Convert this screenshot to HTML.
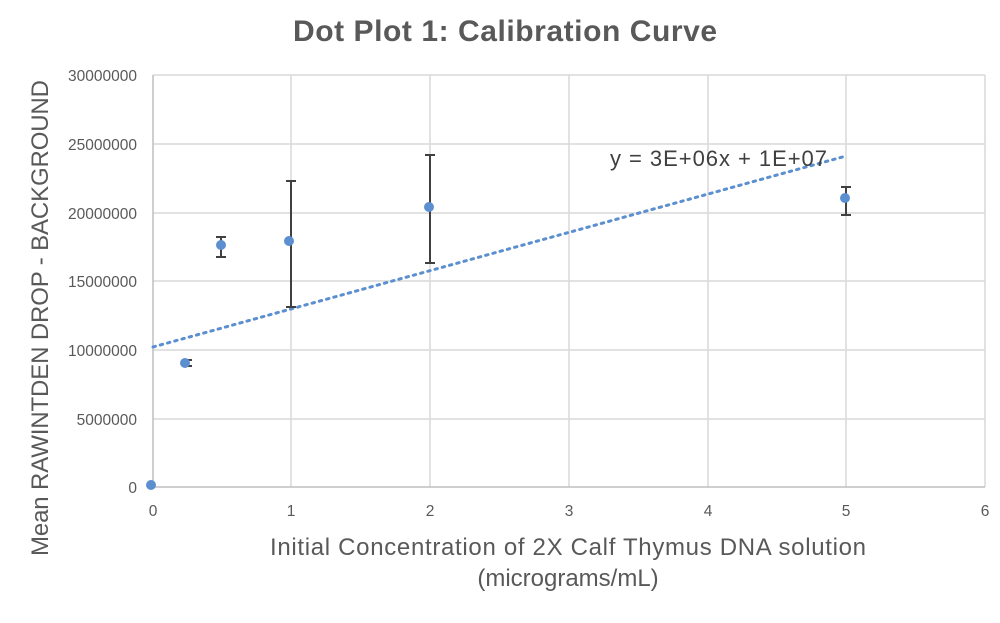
<!DOCTYPE html>
<html><head><meta charset="utf-8"><style>body{margin:0;background:#fff}</style></head><body>
<svg width="1000" height="618" xmlns="http://www.w3.org/2000/svg" font-family="Liberation Sans, sans-serif">
<rect width="1000" height="618" fill="#fff"/>
<text x="505" y="41" text-anchor="middle" font-size="30" font-weight="bold" fill="#595959" textLength="424">Dot Plot 1: Calibration Curve</text>
<g stroke="#d9d9d9" stroke-width="1.5">
<line x1="153" y1="75" x2="985" y2="75"/><line x1="153" y1="144" x2="985" y2="144"/><line x1="153" y1="213" x2="985" y2="213"/><line x1="153" y1="281" x2="985" y2="281"/><line x1="153" y1="350" x2="985" y2="350"/><line x1="153" y1="419" x2="985" y2="419"/>
<line x1="291" y1="75" x2="291" y2="487"/><line x1="430" y1="75" x2="430" y2="487"/><line x1="569" y1="75" x2="569" y2="487"/><line x1="708" y1="75" x2="708" y2="487"/><line x1="846" y1="75" x2="846" y2="487"/><line x1="985" y1="75" x2="985" y2="487"/>
</g>
<g stroke="#bfbfbf" stroke-width="1.5"><line x1="153" y1="75" x2="153" y2="487"/><line x1="153" y1="487" x2="985" y2="487"/></g>
<g font-size="15.5" fill="#595959" text-anchor="end">
<text x="137" y="81">30000000</text><text x="137" y="150">25000000</text><text x="137" y="219">20000000</text><text x="137" y="287">15000000</text><text x="137" y="356">10000000</text><text x="137" y="425">5000000</text><text x="137" y="493">0</text>
</g>
<g font-size="15.5" fill="#595959" text-anchor="middle">
<text x="153" y="516">0</text><text x="291" y="516">1</text><text x="430" y="516">2</text><text x="569" y="516">3</text><text x="708" y="516">4</text><text x="846" y="516">5</text><text x="985" y="516">6</text>
</g>
<text x="568" y="555" text-anchor="middle" font-size="24" fill="#595959" textLength="596">Initial Concentration of 2X Calf Thymus DNA solution</text>
<text x="568" y="586" text-anchor="middle" font-size="24" fill="#595959">(micrograms/mL)</text>
<text transform="translate(48,318) rotate(-90)" text-anchor="middle" font-size="24" fill="#595959" textLength="476">Mean RAWINTDEN DROP - BACKGROUND</text>
<line x1="153" y1="347" x2="846" y2="156" stroke="#5b8fd0" stroke-width="3" stroke-dasharray="2.5 5" stroke-linecap="round"/>
<text x="610" y="166" font-size="22" fill="#404040" textLength="217">y = 3E+06x + 1E+07</text>
<g stroke="#404040" stroke-width="2" fill="none">
<path d="M185 360H192M185 366H192M188 360V366"/>
<path d="M216 237H226M216 257H226M221 237V257"/>
<path d="M286 181H296M286 307H296M291 181V307"/>
<path d="M425 155H435M425 263H435M430 155V263"/>
<path d="M841 187H851M841 215H851M846 187V215"/>
</g>
<g fill="#5b8fd0">
<circle cx="151" cy="485" r="5"/><circle cx="185" cy="363" r="5"/><circle cx="221" cy="245" r="5"/><circle cx="289" cy="241" r="5"/><circle cx="429" cy="207" r="5"/><circle cx="845" cy="198" r="5"/>
</g>
</svg>
</body></html>
